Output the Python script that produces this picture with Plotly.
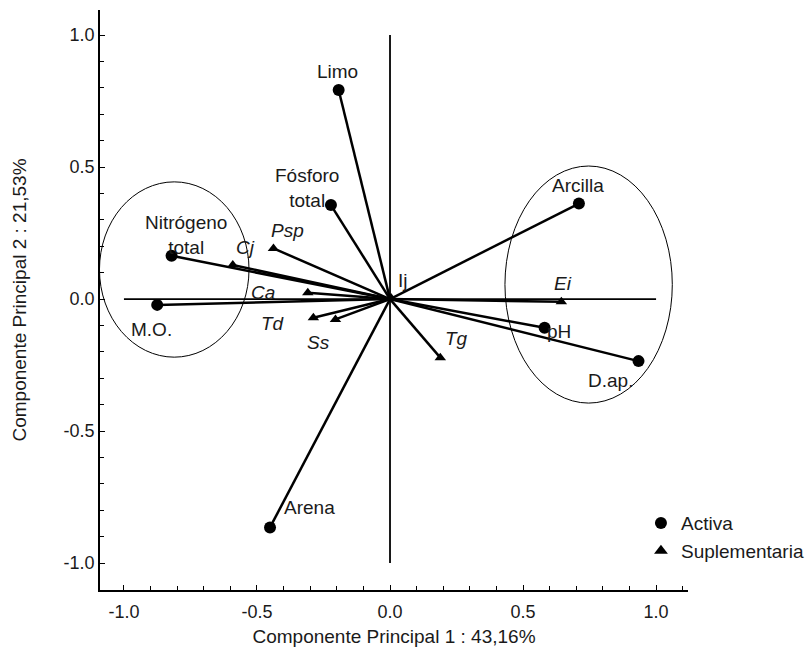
import plotly.graph_objects as go

# ---- data ----
active_names = ["Limo", "Fósforo total", "Nitrógeno total", "M.O.", "Arena", "Arcilla", "pH", "D.ap."]
active_x = [-0.193, -0.222, -0.821, -0.875, -0.451, 0.710, 0.581, 0.934]
active_y = [0.792, 0.356, 0.164, -0.022, -0.865, 0.362, -0.109, -0.235]

supp_names = ["Cj", "Psp", "Ca", "Td", "Ss", "Ij", "Tg", "Ei"]
supp_x = [-0.591, -0.438, -0.309, -0.288, -0.205, 0.004, 0.189, 0.644]
supp_y = [0.129, 0.192, 0.024, -0.071, -0.077, 0.004, -0.222, -0.010]

tick_vals = [-1.0, -0.5, 0.0, 0.5, 1.0]
tick_text = ["-1.0", "-0.5", "0.0", "0.5", "1.0"]

x_title = "Componente Principal 1 : 43,16%"
y_title = "Componente Principal 2 : 21,53%"

# label offsets in pixels (dx right, dy up)
active_off = {
    "Limo": (-1, 18), "Fósforo total": (-24, 17), "Nitrógeno total": (14, 21),
    "M.O.": (-6, -25), "Arena": (39, 20), "Arcilla": (-1, 18), "pH": (14, -4),
    "D.ap.": (-28, -19),
}
supp_off = {
    "Cj": (13, 18), "Psp": (14, 18), "Ca": (-45, 0), "Td": (-40, -6),
    "Ss": (-17, -23), "Ij": (12, 18), "Tg": (16, 19), "Ei": (2, 18),
}
italic = {"Cj", "Psp", "Ca", "Td", "Ss", "Tg", "Ei"}

FONT = "Liberation Sans, Arial, sans-serif"
TXT = "#1a1a1a"

fig = go.Figure()

# vectors from origin
vx, vy = [], []
for x, y in zip(active_x + supp_x, active_y + supp_y):
    vx += [0, x, None]
    vy += [0, y, None]
fig.add_trace(go.Scatter(x=vx, y=vy, mode="lines", line=dict(color="black", width=2.5),
                         showlegend=False, hoverinfo="skip"))

fig.add_trace(go.Scatter(x=active_x, y=active_y, mode="markers", name="Activa",
                         marker=dict(symbol="circle", size=12, color="black")))
fig.add_trace(go.Scatter(x=supp_x, y=supp_y, mode="markers", name="Suplementaria",
                         marker=dict(symbol="triangle-up", size=10, color="black")))

# reference lines at 0
fig.add_shape(type="line", x0=0, x1=0, y0=-1, y1=1, xref="x", yref="y",
              line=dict(color="black", width=1.8))
fig.add_shape(type="line", x0=-1, x1=1, y0=0, y1=0, xref="x", yref="y",
              line=dict(color="black", width=1.8))

# ellipses
fig.add_shape(type="circle", xref="x", yref="y", x0=-1.092, x1=-0.530, y0=-0.220, y1=0.444,
              line=dict(color="black", width=1))
fig.add_shape(type="circle", xref="x", yref="y", x0=0.432, x1=1.061, y0=-0.394, y1=0.504,
              line=dict(color="black", width=1))

for n, x, y in zip(active_names, active_x, active_y):
    dx, dy = active_off[n]
    fig.add_annotation(x=x, y=y, text=n.replace(" ", "<br>"), showarrow=False,
                       xshift=dx, yshift=dy, font=dict(family=FONT, size=19, color=TXT))
for n, x, y in zip(supp_names, supp_x, supp_y):
    dx, dy = supp_off[n]
    t = f"<i>{n}</i>" if n in italic else n
    fig.add_annotation(x=x, y=y, text=t, showarrow=False,
                       xshift=dx, yshift=dy, font=dict(family=FONT, size=19, color=TXT))

axis_common = dict(
    showgrid=False, zeroline=False, showline=True, linecolor="black", linewidth=1.5,
    ticks="inside", ticklen=5, tickcolor="black", tickwidth=1.2,
    tickvals=tick_vals, ticktext=tick_text,
    tickfont=dict(family=FONT, size=18, color=TXT),
    minor=dict(ticks="inside", ticklen=4, tickcolor="black", dtick=0.1, tick0=0, showgrid=False),
    mirror=False,
)

fig.update_layout(
    width=812, height=661,
    margin=dict(l=100, r=124, t=10, b=71, autoexpand=False),
    plot_bgcolor="white", paper_bgcolor="white",
    font=dict(family=FONT, size=19, color=TXT),
    xaxis=dict(range=[-1.090, 1.12], ticklabelstandoff=5,
               title=dict(text=x_title, font=dict(family=FONT, size=19, color=TXT), standoff=8),
               **axis_common),
    yaxis=dict(range=[-1.102, 1.095],
               title=dict(text=y_title, font=dict(family=FONT, size=19, color=TXT), standoff=32),
               **axis_common),
    legend=dict(x=0.92, y=0.148, xanchor="left", yanchor="top", bgcolor="rgba(0,0,0,0)",
                font=dict(family=FONT, size=19, color=TXT), itemsizing="constant"),
    showlegend=True,
)

fig.write_html("out.html")
